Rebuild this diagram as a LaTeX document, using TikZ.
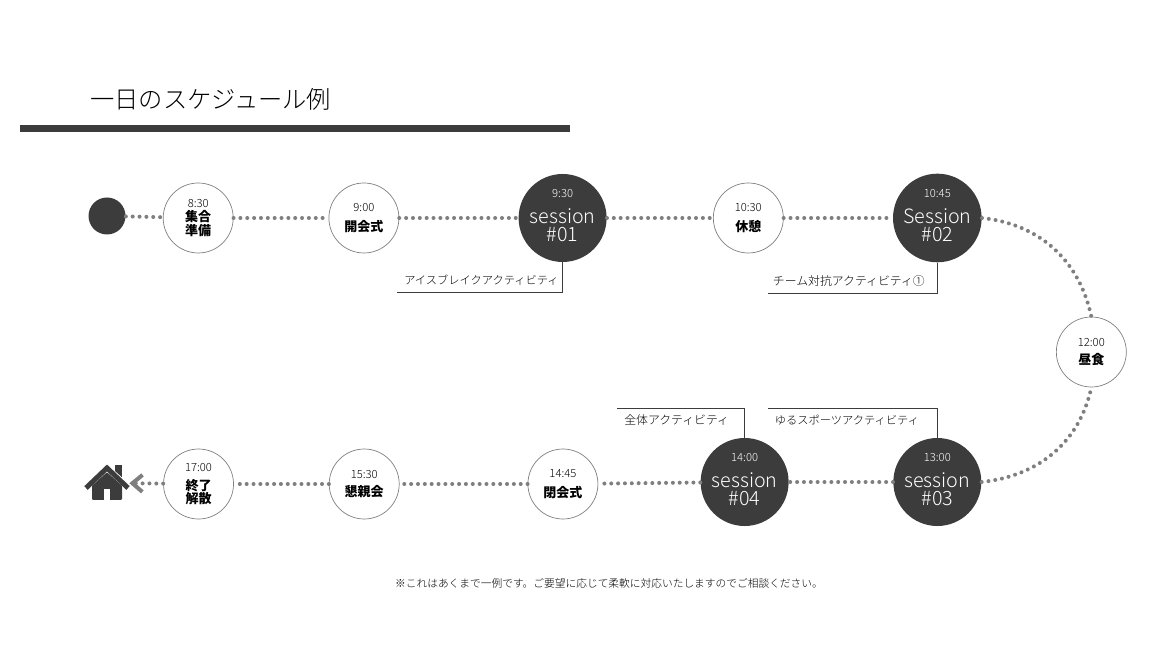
\documentclass[tikz,border=0pt]{standalone}
\usepackage{fontspec}
\setmainfont{Noto Sans CJK JP}
\newfontfamily\thinfont{Noto Sans CJK JP Light}
\usepackage{xcolor}
\definecolor{darkfill}{HTML}{3C3C3C}
\definecolor{dotgray}{HTML}{7F7F7F}
\usetikzlibrary{arrows.meta, positioning, calc}

\begin{document}
\begin{tikzpicture}[
	stop/.style={circle, draw=gray, line width=0.4pt, fill=white, minimum size=1.4cm, inner sep=0pt, align=center, font=\fontsize{7.4}{9}\selectfont},
	session/.style={circle, fill=darkfill, minimum size=1.76cm, inner sep=0pt, align=center, text=white, text depth=0.1cm, font=\thinfont\fontsize{11.2}{10.4}\selectfont},
	anno/.style={minimum height=0.48cm, inner xsep=0.14cm, inner ysep=0pt, align=left, font=\thinfont\fontsize{6.4}{8}\selectfont},
	annoline/.style={draw=darkfill, line width=0.5pt},
	dots/.style={draw=dotgray, line width=0.08cm, line cap=round, dash pattern=on 0pt off 0.137cm}
	]
	\useasboundingbox (0,0) rectangle (23.3,13.4);

	% Title
	\node[anchor=west, inner sep=0pt, font=\thinfont\fontsize{13.8}{16}\selectfont] (title) at (1.8,11.42) {一日のスケジュール例};
	\fill[darkfill] (0.4,10.76) rectangle (11.4,10.9);

	% Upper row
	\node[circle, fill=darkfill, minimum size=0.74cm, inner sep=0pt] (start) at (2.14,9.08) {};
	\node[stop, right=0.74cm of start, yshift=-0.04cm] (gather) {{\thinfont\fontsize{6.4}{7}\selectfont 8:30}\\[-1pt]\textbf{集合}\\[-1pt]\textbf{準備}};
	\node[stop, right=1.9cm of gather] (opening) {{\thinfont\fontsize{6.4}{7}\selectfont 9:00}\\[2pt]\textbf{開会式}};
	\node[session, right=2.38cm of opening] (sone) {{\fontsize{6.4}{7}\selectfont 9:30}\\[4pt]session\\\#01};
	\node[stop, right=2.12cm of sone] (rest) {{\thinfont\fontsize{6.4}{7}\selectfont 10:30}\\[2pt]\textbf{休憩}};
	\node[session, right=2.18cm of rest] (stwo) {{\fontsize{6.4}{7}\selectfont 10:45}\\[4pt]Session\\\#02};

	% Lunch
	\node[stop] (lunch) at ($(stwo)+(3.08,-2.68)$) {{\thinfont\fontsize{6.4}{7}\selectfont 12:00}\\[1pt]\textbf{昼食}};

	% Lower row
	\node[session, below=3.5cm of stwo] (sthree) {{\fontsize{6.4}{7}\selectfont 13:00}\\[4pt]session\\\#03};
	\node[session, left=2.08cm of sthree] (sfour) {{\fontsize{6.4}{7}\selectfont 14:00}\\[4pt]session\\\#04};
	\node[stop, left=2.04cm of sfour, yshift=-0.04cm] (closing) {{\thinfont\fontsize{6.4}{7}\selectfont 14:45}\\[2pt]\textbf{閉会式}};
	\node[stop, left=2.56cm of closing] (party) {{\thinfont\fontsize{6.4}{7}\selectfont 15:30}\\[1pt]\textbf{懇親会}};
	\node[stop, left=1.9cm of party] (finish) {{\thinfont\fontsize{6.4}{7}\selectfont 17:00}\\[1.5pt]\textbf{終了}\\[-1.5pt]\textbf{解散}};
	\node[circle, minimum size=0.88cm, inner sep=0pt] (home) at (2.14,3.74) {};

	% Home icon
	\begin{scope}[shift={(home)}]
		\fill[darkfill] (0.16,0.36) rectangle (0.3,0.1);
		\fill[darkfill, rounded corners=0.02cm] (-0.3,-0.02) -- (0,0.22) -- (0.3,-0.02) -- (0.3,-0.34) -- (-0.3,-0.34) -- cycle;
		\fill[white] (-0.06,-0.34) rectangle (0.06,-0.12);
		\draw[white, line width=0.12cm] (-0.4,-0.06) -- (0,0.3) -- (0.4,-0.06);
		\draw[darkfill, line width=0.1cm] (-0.42,-0.1) -- (0,0.3) -- (0.42,-0.1);
	\end{scope}

	% Connectors
	\draw[dots] (start) -- (gather);
	\draw[dots] (gather) -- (opening);
	\draw[dots] (opening) -- (sone);
	\draw[dots] (sone) -- (rest);
	\draw[dots] (rest) -- (stwo);
	\draw[dots] (stwo.east) to[out=-6, in=102] (lunch.north);
	\draw[dots] (sthree.east) to[out=6, in=-102] (lunch.south);
	\draw[dots] (sthree) -- (sfour);
	\draw[dots] (sfour) -- (closing);
	\draw[dots] (closing) -- (party);
	\draw[dots] (party) -- (finish);
	\draw[dots, -{Straight Barb[length=0.2cm, width=0.34cm]}] (finish) -- (home);

	% Activity labels
	\node[anno, text width=3.02cm, below left=0.1cm and 0cm of sone.south] (aone) {アイスブレイクアクティビティ};
	\node[anno, text width=3.1cm, below left=0.12cm and 0cm of stwo.south, font=\thinfont\fontsize{6.75}{8}\selectfont] (atwo) {\hspace{-0.04cm}チーム対抗アクティビティ①};
	\node[anno, text width=3.1cm, above left=0.1cm and 0cm of sthree.north] (athree) {ゆるスポーツアクティビティ};
	\node[anno, text width=2.26cm, above left=0.1cm and 0cm of sfour.north, font=\thinfont\fontsize{6.75}{8}\selectfont] (afour) {全体アクティビティ};
	\draw[annoline] (sone.south) -- (aone.south east) -- (aone.south west);
	\draw[annoline] (stwo.south) -- (atwo.south east) -- (atwo.south west);
	\draw[annoline] (sthree.north) -- (athree.north east) -- (athree.north west);
	\draw[annoline] (sfour.north) -- (afour.north east) -- (afour.north west);

	% Footnote
	\node[inner sep=0pt, font=\thinfont\fontsize{6.1}{8}\selectfont] (note) at (12.18,1.74) {※これはあくまで一例です。ご要望に応じて柔軟に対応いたしますのでご相談ください。};
\end{tikzpicture}
\end{document}
